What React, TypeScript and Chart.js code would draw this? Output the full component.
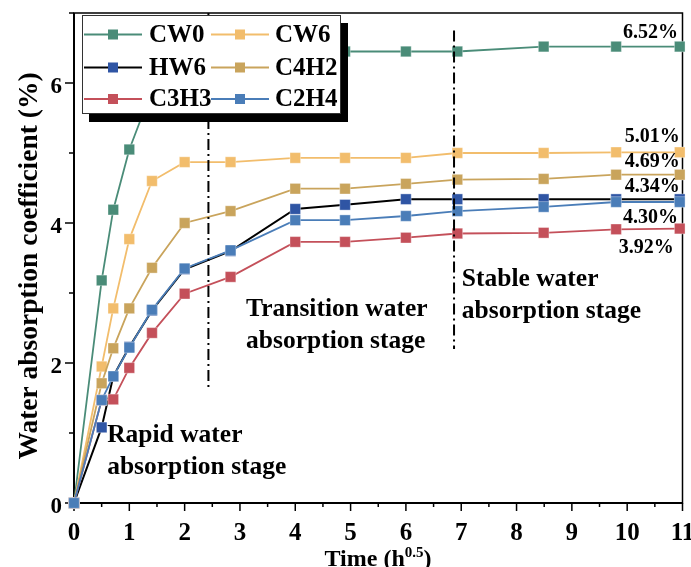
import React, { useEffect, useRef } from 'react';
import { Chart, registerables } from 'chart.js';
Chart.register(...registerables);

const timeX = [0, 0.5, 0.71, 1, 1.41, 2, 2.83, 4, 4.9, 6, 6.93, 8.49, 9.8, 10.95];
const cw0 = [0, 3.18, 4.19, 5.05, 5.9, 6.25, 6.4, 6.45, 6.45, 6.45, 6.45, 6.52, 6.52, 6.52];
const cw6 = [0, 1.95, 2.78, 3.77, 4.6, 4.87, 4.87, 4.93, 4.93, 4.93, 5.0, 5.0, 5.01, 5.01];
const hw6 = [0, 1.08, 1.81, 2.23, 2.75, 3.34, 3.6, 4.2, 4.26, 4.34, 4.34, 4.34, 4.34, 4.34];
const c4h2 = [0, 1.71, 2.21, 2.78, 3.36, 4.0, 4.17, 4.49, 4.49, 4.56, 4.62, 4.63, 4.69, 4.69];
const c3h3 = [0, 1.47, 1.48, 1.93, 2.43, 2.99, 3.23, 3.73, 3.73, 3.79, 3.85, 3.86, 3.91, 3.92];
const c2h4 = [0, 1.47, 1.81, 2.22, 2.76, 3.35, 3.61, 4.04, 4.04, 4.1, 4.17, 4.23, 4.3, 4.3];

const seriesNames = ['CW0', 'CW6', 'HW6', 'C4H2', 'C3H3', 'C2H4'];
const seriesValues = [cw0, cw6, hw6, c4h2, c3h3, c2h4];
const lineColors = ['#4a8c78', '#f2bd6c', '#000000', '#c9a45c', '#c4505a', '#4a7db8'];
const markerColors = ['#4a8c78', '#f2bd6c', '#2f55a4', '#c9a45c', '#c4505a', '#4a7db8'];
const drawOrder = [5, 4, 3, 2, 1, 0];

const xTicks = [0, 1, 2, 3, 4, 5, 6, 7, 8, 9, 10, 11];
const yTicks = [0, 2, 4, 6];

const finalLabels = ['6.52%', '5.01%', '4.69%', '4.34%', '4.30%', '3.92%'];
const finalLabelX = [10.92, 10.95, 10.95, 10.95, 10.92, 10.84];
const finalLabelY = [6.72, 5.23, 4.87, 4.51, 4.07, 3.64];

const stageLineX = [2.43, 6.87];
const stageLineY0 = [1.6, 2.2];
const stageLineY1 = [7, 6.75];

const stageText1 = ['Rapid water', 'Transition water', 'Stable water'];
const stageText2 = ['absorption stage', 'absorption stage', 'absorption stage'];
const stageTextX = [0.6, 3.11, 7.01];
const stageTextY = [0.97, 2.76, 3.19];

const FONT = '"Liberation Serif", "Times New Roman", serif';

const decorPlugin = {
  id: 'decor',
  beforeDatasetsDraw(chart: any) {
    const ctx = chart.ctx;
    const xs = chart.scales.x;
    const ys = chart.scales.y;
    const a = chart.chartArea;
    ctx.save();
    // frame
    ctx.strokeStyle = '#000';
    ctx.lineWidth = 1.5;
    ctx.strokeRect(a.left, a.top, a.right - a.left, a.bottom - a.top);
    ctx.lineWidth = 2;
    ctx.beginPath();
    ctx.moveTo(a.left, a.top);
    ctx.lineTo(a.left, a.bottom);
    ctx.lineTo(a.right, a.bottom);
    ctx.stroke();
    // x ticks
    ctx.lineWidth = 1.5;
    for (let v = 0; v <= 11.001; v += 0.5) {
      const px = xs.getPixelForValue(v);
      const major = Math.abs(v - Math.round(v)) < 1e-6;
      ctx.beginPath();
      ctx.moveTo(px, a.bottom);
      ctx.lineTo(px, a.bottom + (major ? 8 : 4));
      ctx.stroke();
    }
    for (let v = 0; v <= 7.001; v += 1) {
      const py = ys.getPixelForValue(v);
      const major = v % 2 === 0;
      ctx.beginPath();
      ctx.moveTo(a.left, py);
      ctx.lineTo(a.left - (major ? 9 : 5), py);
      ctx.stroke();
    }
    // tick labels
    ctx.fillStyle = '#000';
    ctx.font = `bold 25px ${FONT}`;
    ctx.textAlign = 'center';
    ctx.textBaseline = 'alphabetic';
    xTicks.forEach((v) => ctx.fillText(String(v), xs.getPixelForValue(v), 540));
    ctx.font = `bold 23px ${FONT}`;
    ctx.textAlign = 'right';
    yTicks.forEach((v) => ctx.fillText(String(v), 62, ys.getPixelForValue(v) + 9.5));
    // y title
    ctx.save();
    ctx.translate(30, 266);
    ctx.rotate(-Math.PI / 2);
    ctx.textAlign = 'center';
    ctx.textBaseline = 'middle';
    ctx.font = `bold 27.5px ${FONT}`;
    ctx.fillText('Water absorption coefficient (%)', 0, 0);
    ctx.restore();
    // x title with superscript
    ctx.textAlign = 'left';
    ctx.textBaseline = 'alphabetic';
    const big = `bold 24px ${FONT}`;
    const small = `bold 15px ${FONT}`;
    ctx.font = big;
    const w1 = ctx.measureText('Time (h').width;
    const w3 = ctx.measureText(')').width;
    ctx.font = small;
    const w2 = ctx.measureText('0.5').width;
    const total = w1 + w2 + w3;
    const sx = 378 - total / 2;
    ctx.font = big;
    ctx.fillText('Time (h', sx, 566);
    ctx.font = small;
    ctx.fillText('0.5', sx + w1, 557);
    ctx.font = big;
    ctx.fillText(')', sx + w1 + w2, 566);
    ctx.restore();
  },
  afterDatasetsDraw(chart: any) {
    const ctx = chart.ctx;
    const xs = chart.scales.x;
    const ys = chart.scales.y;
    ctx.save();
    // stage divider lines
    ctx.strokeStyle = '#000';
    ctx.lineWidth = 2;
    ctx.setLineDash([11, 4, 2, 4]);
    stageLineX.forEach((xv, i) => {
      const px = xs.getPixelForValue(xv);
      ctx.beginPath();
      ctx.moveTo(px, ys.getPixelForValue(stageLineY1[i]));
      ctx.lineTo(px, ys.getPixelForValue(stageLineY0[i]));
      ctx.stroke();
    });
    ctx.setLineDash([]);
    // stage text
    ctx.fillStyle = '#000';
    ctx.font = `bold 25.5px ${FONT}`;
    ctx.textAlign = 'left';
    ctx.textBaseline = 'middle';
    stageText1.forEach((t, i) => {
      const px = xs.getPixelForValue(stageTextX[i]);
      const py = ys.getPixelForValue(stageTextY[i]);
      ctx.fillText(t, px, py);
      ctx.fillText(stageText2[i], px, py + 32);
    });
    // final value labels
    ctx.font = `bold 20px ${FONT}`;
    ctx.textAlign = 'right';
    finalLabels.forEach((t, i) => {
      ctx.fillText(t, xs.getPixelForValue(finalLabelX[i]), ys.getPixelForValue(finalLabelY[i]));
    });
    ctx.restore();
  },
  afterDraw(chart: any) {
    const ctx = chart.ctx;
    ctx.save();
    // legend box with shadow
    ctx.fillStyle = '#000';
    ctx.fillRect(89, 23, 259, 99);
    ctx.fillStyle = '#fff';
    ctx.fillRect(82, 15, 259, 99);
    ctx.strokeStyle = '#333';
    ctx.lineWidth = 1;
    ctx.strokeRect(82.5, 15.5, 258, 98);
    const colLine = [[84, 142], [211, 269]];
    const colText = [149, 275];
    const rowY = [34.5, 67.5, 99];
    ctx.font = `bold 25px ${FONT}`;
    ctx.textBaseline = 'middle';
    ctx.textAlign = 'left';
    seriesNames.forEach((name, i) => {
      const col = i % 2;
      const row = Math.floor(i / 2);
      const y = rowY[row];
      const [x0, x1] = colLine[col];
      ctx.strokeStyle = lineColors[i];
      ctx.lineWidth = 2;
      ctx.beginPath();
      ctx.moveTo(x0, y);
      ctx.lineTo(x1, y);
      ctx.stroke();
      const mx = (x0 + x1) / 2;
      ctx.fillStyle = markerColors[i];
      ctx.fillRect(mx - 5, y - 5, 10, 10);
      ctx.fillStyle = '#000';
      ctx.fillText(name, colText[col], y + 1);
    });
    ctx.restore();
  },
};

export default function App() {
  const ref = useRef<HTMLCanvasElement>(null);
  useEffect(() => {
    if (!ref.current) return;
    const chart = new Chart(ref.current, {
      type: 'line',
      data: {
        datasets: seriesNames.map((name, i) => ({
          label: name,
          data: timeX.map((x, j) => ({ x, y: seriesValues[i][j] })),
          borderColor: lineColors[i],
          backgroundColor: markerColors[i],
          pointBackgroundColor: markerColors[i],
          pointBorderColor: 'rgba(255,255,255,0.35)',
          pointBorderWidth: 1,
          pointStyle: 'rect',
          pointRadius: 7.5,
          borderWidth: i === 2 ? 2 : 1.8,
          tension: 0,
          clip: false,
          order: drawOrder[i],
        })),
      },
      options: {
        responsive: false,
        animation: false,
        devicePixelRatio: 1,
        layout: { padding: { left: 74, right: 8, top: 13, bottom: 64 } },
        plugins: { legend: { display: false }, tooltip: { enabled: false } },
        scales: {
          x: { type: 'linear', min: 0, max: 11, display: false },
          y: { type: 'linear', min: 0, max: 7, display: false },
        },
      },
      plugins: [decorPlugin],
    } as any);
    return () => chart.destroy();
  }, []);
  return (
    <div style={{ position: 'fixed', left: 0, top: 0, width: 691, height: 567, background: '#fff' }}>
      <canvas ref={ref} width={691} height={567} style={{ width: 691, height: 567, display: 'block' }} />
    </div>
  );
}
